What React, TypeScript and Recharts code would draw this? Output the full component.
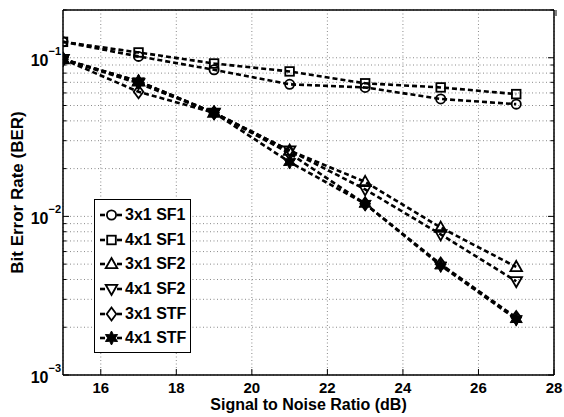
import React from 'react';
import { LineChart, Line, XAxis, YAxis, CartesianGrid, Legend } from 'recharts';

const snr = [15, 17, 19, 21, 23, 25, 27];
const ber3x1SF1 = [0.126, 0.102, 0.084, 0.068, 0.065, 0.055, 0.051];
const ber4x1SF1 = [0.126, 0.108, 0.092, 0.082, 0.069, 0.065, 0.059];
const ber3x1SF2 = [0.098, 0.071, 0.045, 0.026, 0.0165, 0.0085, 0.0048];
const ber4x1SF2 = [0.098, 0.069, 0.045, 0.026, 0.0148, 0.0077, 0.0039];
const ber3x1STF = [0.098, 0.061, 0.045, 0.025, 0.012, 0.005, 0.0023];
const ber4x1STF = [0.098, 0.071, 0.045, 0.022, 0.012, 0.0049, 0.00225];

const xTicks = [16, 18, 20, 22, 24, 26, 28];
const yTicks = [
  0.001, 0.002, 0.003, 0.004, 0.005, 0.006, 0.007, 0.008, 0.009,
  0.01, 0.02, 0.03, 0.04, 0.05, 0.06, 0.07, 0.08, 0.09,
  0.1, 0.2,
];

const seriesDefs = [
  { key: 's1', name: '3x1 SF1', values: ber3x1SF1, shape: 'circle' },
  { key: 's2', name: '4x1 SF1', values: ber4x1SF1, shape: 'square' },
  { key: 's3', name: '3x1 SF2', values: ber3x1SF2, shape: 'up' },
  { key: 's4', name: '4x1 SF2', values: ber4x1SF2, shape: 'down' },
  { key: 's5', name: '3x1 STF', values: ber3x1STF, shape: 'diamond' },
  { key: 's6', name: '4x1 STF', values: ber4x1STF, shape: 'star' },
];

const data = snr.map((s, i) => {
  const row: any = { snr: s };
  seriesDefs.forEach((d) => (row[d.key] = d.values[i]));
  return row;
});

const FONT = '"Liberation Sans", Arial, Helvetica, sans-serif';

function hexagram(cx: number, cy: number, R: number, r: number) {
  const pts: string[] = [];
  for (let k = 0; k < 12; k++) {
    const a = (Math.PI / 6) * k - Math.PI / 2;
    const rad = k % 2 === 0 ? R : r;
    pts.push(`${cx + rad * Math.cos(a)},${cy + rad * Math.sin(a)}`);
  }
  return pts.join(' ');
}

function Marker({ cx, cy, shape }: { cx: number; cy: number; shape: string }) {
  const sw = 1.8;
  switch (shape) {
    case 'circle':
      return <circle cx={cx} cy={cy} r={4.6} fill="none" stroke="#000" strokeWidth={sw} />;
    case 'square':
      return <rect x={cx - 4.3} y={cy - 4.3} width={8.6} height={8.6} fill="none" stroke="#000" strokeWidth={sw} />;
    case 'up':
      return (
        <polygon
          points={`${cx},${cy - 6} ${cx + 5.8},${cy + 4.2} ${cx - 5.8},${cy + 4.2}`}
          fill="none" stroke="#000" strokeWidth={sw}
        />
      );
    case 'down':
      return (
        <polygon
          points={`${cx},${cy + 6} ${cx + 5.8},${cy - 4.2} ${cx - 5.8},${cy - 4.2}`}
          fill="none" stroke="#000" strokeWidth={sw}
        />
      );
    case 'diamond':
      return (
        <polygon
          points={`${cx},${cy - 6.5} ${cx + 4.8},${cy} ${cx},${cy + 6.5} ${cx - 4.8},${cy}`}
          fill="none" stroke="#000" strokeWidth={sw}
        />
      );
    default:
      return <polygon points={hexagram(cx, cy, 7, 3.8)} fill="#000" stroke="#000" strokeWidth={1} />;
  }
}

const isDecade = (v: number) => Math.abs(Math.log10(v) - Math.round(Math.log10(v))) < 1e-6;

const LeftYTick = (props: any) => {
  const { x, y, payload } = props;
  const v = payload.value;
  const major = isDecade(v);
  const axisX = x + 2;
  const exp = Math.round(Math.log10(v));
  return (
    <g>
      <line x1={axisX} x2={axisX + (major ? 6 : 3.5)} y1={y} y2={y} stroke="#000" strokeWidth={1} />
      {major && (
        <text x={x} y={y + 8} textAnchor="end" fontFamily={FONT} fontWeight="bold" fontSize={16} fill="#000">
          10
          <tspan dy={-11} fontSize={11}>{`\u2212${Math.abs(exp)}`}</tspan>
        </text>
      )}
    </g>
  );
};

const RightYTick = (props: any) => {
  const { x, y, payload } = props;
  const major = isDecade(payload.value);
  const axisX = x - 2;
  return <line x1={axisX} x2={axisX - (major ? 6 : 3.5)} y1={y} y2={y} stroke="#000" strokeWidth={1} />;
};

const BottomXTick = (props: any) => {
  const { x, y, payload } = props;
  return (
    <g>
      <line x1={x} x2={x} y1={y} y2={y - 6} stroke="#000" strokeWidth={1} />
      <text x={x} y={y + 17.5} textAnchor="middle" fontFamily={FONT} fontWeight="bold" fontSize={15} fill="#000">
        {payload.value}
      </text>
    </g>
  );
};

const TopXTick = (props: any) => {
  const { x, y } = props;
  return <line x1={x} x2={x} y1={y} y2={y + 6} stroke="#000" strokeWidth={1} />;
};

const LegendBox = () => (
  <div
    style={{
      width: 97,
      height: 154,
      boxSizing: 'border-box',
      border: '1.5px solid #000',
      background: '#fff',
      paddingTop: 3,
      fontFamily: FONT,
      fontWeight: 'bold',
      fontSize: 16,
      color: '#000',
    }}
  >
    {seriesDefs.map((d) => (
      <div key={d.key} style={{ height: 24.6, display: 'flex', alignItems: 'center' }}>
        <svg width={30} height={20} style={{ display: 'block', flex: 'none' }}>
          <line x1={5} x2={10} y1={10} y2={10} stroke="#000" strokeWidth={2.6} />
          <line x1={22} x2={27} y1={10} y2={10} stroke="#000" strokeWidth={2.6} />
          <Marker cx={16.5} cy={10} shape={d.shape} />
        </svg>
        <span style={{ lineHeight: '20px', whiteSpace: 'nowrap' }}>{d.name}</span>
      </div>
    ))}
  </div>
);

export default function App() {
  return (
    <div style={{ position: 'absolute', left: 0, top: 0, width: 564, height: 417, background: '#fff' }}>
      <LineChart width={564} height={417} data={data} margin={{ top: 0, right: 0, bottom: 0, left: 0 }}>
        <CartesianGrid stroke="#8a8a8a" strokeDasharray="1 2.5" strokeWidth={1} />
        <XAxis
          dataKey="snr"
          type="number"
          domain={[15, 28]}
          ticks={xTicks}
          height={42}
          tickSize={0}
          tickMargin={0}
          axisLine={{ stroke: '#000', strokeWidth: 1.5 }}
          tickLine={false}
          tick={<BottomXTick />}
          allowDataOverflow
          label={{
            content: (p: any) => {
              const vb = p.viewBox;
              return (
                <text x={vb.x + vb.width / 2} y={vb.y + 35} textAnchor="middle" fontFamily={FONT} fontWeight="bold" fontSize={16} fill="#000">
                  Signal to Noise Ratio (dB)
                </text>
              );
            },
          }}
        />
        <XAxis
          xAxisId="top"
          orientation="top"
          type="number"
          domain={[15, 28]}
          ticks={xTicks}
          height={10}
          tickSize={0}
          tickMargin={0}
          axisLine={{ stroke: '#000', strokeWidth: 1.5 }}
          tickLine={false}
          tick={<TopXTick />}
          allowDataOverflow
        />
        <YAxis
          scale="log"
          type="number"
          domain={[0.001, 0.2]}
          ticks={yTicks}
          width={63}
          tickSize={0}
          tickMargin={2}
          axisLine={{ stroke: '#000', strokeWidth: 1.5 }}
          tickLine={false}
          tick={<LeftYTick />}
          interval={0}
          allowDataOverflow
          label={{
            content: (p: any) => {
              const vb = p.viewBox;
              const cy = vb.y + vb.height / 2;
              return (
                <text x={19} y={cy} transform={`rotate(-90, 19, ${cy})`} textAnchor="middle" dominantBaseline="middle" fontFamily={FONT} fontWeight="bold" fontSize={17} fill="#000">
                  Bit Error Rate (BER)
                </text>
              );
            },
          }}
        />
        <YAxis
          yAxisId="right"
          orientation="right"
          scale="log"
          type="number"
          domain={[0.001, 0.2]}
          ticks={yTicks}
          width={10}
          tickSize={0}
          tickMargin={2}
          axisLine={{ stroke: '#000', strokeWidth: 1.5 }}
          tickLine={false}
          tick={<RightYTick />}
          interval={0}
          allowDataOverflow
        />
        {seriesDefs.map((d) => (
          <Line
            key={d.key}
            dataKey={d.key}
            name={d.name}
            type="linear"
            stroke="#000"
            strokeWidth={2.6}
            strokeDasharray="5 3"
            isAnimationActive={false}
            dot={(p: any) => <Marker key={`${d.key}-${p.index}`} cx={p.cx} cy={p.cy} shape={d.shape} />}
            activeDot={false}
          />
        ))}
        <Legend
          layout="horizontal"
          verticalAlign="middle"
          align="center"
          content={() => <LegendBox />}
          wrapperStyle={{ position: 'absolute', left: 94, top: 199, width: 97, height: 154 }}
        />
      </LineChart>
    </div>
  );
}
